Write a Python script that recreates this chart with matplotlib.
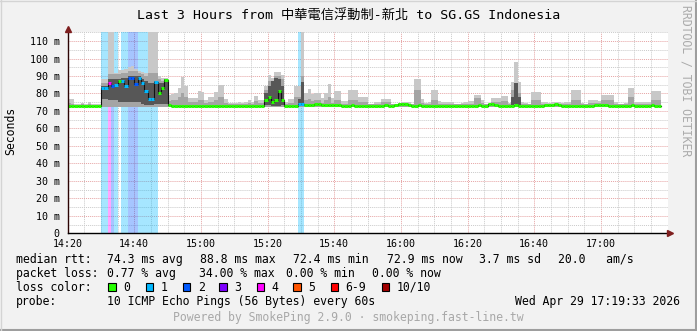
import numpy as np
import matplotlib
matplotlib.use("Agg")
import matplotlib.pyplot as plt
from matplotlib.lines import Line2D
from matplotlib.patches import Rectangle

W, H = 697, 331

# one sample per minute, minute 0 = 14:20
median_ms = [
    73.0, 72.9, 72.9, 73.0, 73.0, 73.1, 73.0, 72.9, 72.9, 73.0,
    83.0, 83.0, 86.0, 84.5, 85.0, 87.0, 87.0, 84.0, 88.6, 88.6,
    85.5, 89.0, 86.0, 81.5, 77.0, 77.0, 86.5, 80.5, 83.0, 87.5,
    73.2, 73.1, 73.0, 73.0, 73.1, 73.0, 72.9, 72.9, 73.0, 73.0,
    73.1, 73.0, 73.0, 72.9, 72.9, 73.0, 73.0, 73.0, 73.1, 73.0,
    72.9, 72.9, 73.0, 73.0, 73.1, 73.0, 73.0, 72.9, 73.0, 76.0,
    77.7, 75.1, 76.4, 81.5, 76.4, 73.0, 73.0, 72.9, 73.0, 73.8,
    73.8, 73.2, 73.3, 73.5, 73.8, 73.9, 73.6, 73.4, 73.3, 73.2,
    73.6, 73.4, 73.1, 73.0, 73.0, 73.2, 73.0, 72.9, 73.0, 73.0,
    73.1, 73.0, 72.9, 73.0, 73.1, 73.2, 73.1, 73.0, 73.2, 73.8,
    74.1, 73.9, 73.4, 73.1, 73.0, 73.2, 73.1, 73.0, 72.9, 73.0,
    73.1, 73.0, 73.0, 72.9, 72.9, 73.0, 73.0, 73.1, 73.0, 72.9,
    73.0, 73.1, 73.0, 73.2, 73.1, 73.0, 73.7, 73.8, 73.4, 73.1,
    73.0, 73.0, 72.9, 73.1, 73.2, 73.0, 72.9, 73.0, 73.0, 73.1,
    73.0, 73.0, 73.1, 73.2, 73.4, 73.6, 73.7, 73.3, 73.1, 73.0,
    73.0, 73.1, 73.0, 72.9, 73.0, 73.0, 73.1, 73.0, 73.2, 73.4,
    73.3, 73.2, 73.1, 73.0, 73.0, 72.9, 73.0, 73.0, 73.1, 73.2,
    73.0, 73.0, 72.9, 73.0, 73.1, 73.2, 73.1, 72.9,
]

loss_count = [
    0, 0, 0, 0, 0, 0, 0, 0, 0, 0,
    1, 1, 4, 2, 1, 0, 1, 1, 2, 2,
    2, 1, 1, 1, 1, 1, 1, 0, 0, 0,
    0, 0, 0, 0, 0, 0, 0, 0, 0, 0,
    0, 0, 0, 0, 0, 0, 0, 0, 0, 0,
    0, 0, 0, 0, 0, 0, 0, 0, 0, 0,
    0, 0, 0, 0, 0, 0, 0, 0, 0, 1,
    1, 0, 0, 0, 0, 0, 0, 0, 0, 0,
    0, 0, 0, 0, 0, 0, 0, 0, 0, 0,
    0, 0, 0, 0, 0, 0, 0, 0, 0, 0,
    0, 0, 0, 0, 0, 0, 0, 0, 0, 0,
    0, 0, 0, 0, 0, 0, 0, 0, 0, 0,
    0, 0, 0, 0, 0, 0, 0, 0, 0, 0,
    0, 0, 0, 0, 0, 0, 0, 0, 0, 0,
    0, 0, 0, 0, 0, 0, 0, 0, 0, 0,
    0, 0, 0, 0, 0, 0, 0, 0, 0, 0,
    0, 0, 0, 0, 0, 0, 0, 0, 0, 0,
    0, 0, 0, 0, 0, 0, 0, 0,
]

# top of the smoke (slowest ping), 120 = off the chart
ping_max = [
    77.0, 77.0, 74.0, 74.0, 74.5, 74.0, 75.0, 74.0, 74.0, 74.0,
    88.0, 88.0, 120, 120, 92.0, 93.5, 93.5, 94.0, 95.0, 95.5,
    94.0, 93.0, 92.5, 92.0, 120, 120, 120, 90.0, 89.0, 89.0,
    79.0, 79.5, 80.0, 83.4, 89.6, 84.0, 77.4, 77.4, 77.4, 81.3,
    81.0, 76.5, 78.0, 78.0, 81.0, 85.0, 85.0, 77.0, 74.5, 74.5,
    74.5, 75.0, 74.5, 75.4, 76.4, 75.4, 78.3, 76.4, 76.4, 84.0,
    90.6, 88.7, 92.5, 92.5, 90.6, 75.0, 77.0, 77.0, 84.0, 84.0,
    120, 80.2, 82.7, 79.5, 80.2, 80.2, 77.5, 80.5, 85.5, 77.5,
    81.5, 81.5, 75.5, 75.5, 82.0, 82.0, 82.0, 77.7, 77.7, 77.7,
    74.0, 74.0, 75.0, 75.0, 77.0, 77.0, 77.0, 74.0, 74.0, 74.5,
    75.0, 75.0, 75.0, 74.0, 88.3, 88.3, 77.0, 74.5, 75.0, 82.0,
    82.0, 75.5, 75.0, 75.0, 75.0, 75.0, 74.0, 74.0, 74.5, 75.0,
    75.5, 75.5, 79.2, 79.2, 76.0, 74.0, 74.5, 77.3, 77.3, 77.3,
    78.3, 78.3, 74.5, 86.8, 98.1, 86.8, 75.0, 74.5, 74.0, 80.8,
    80.8, 80.8, 75.0, 75.0, 74.5, 75.0, 75.0, 75.0, 74.5, 75.0,
    75.0, 82.0, 82.0, 82.0, 74.5, 74.0, 76.0, 76.0, 76.0, 75.5,
    79.2, 79.2, 79.2, 79.2, 75.0, 74.0, 74.0, 74.5, 83.3, 83.3,
    75.0, 75.0, 75.0, 75.0, 75.0, 81.3, 81.3, 81.3,
]

# top of the medium grey smoke band
ping_mid = [
    74.5, 74.0, 73.6, 73.6, 73.8, 73.6, 74.2, 73.6, 73.6, 73.6,
    86.0, 86.0, 91.0, 91.0, 91.0, 91.0, 92.0, 92.0, 93.0, 93.0,
    93.0, 92.0, 91.0, 90.0, 92.0, 92.0, 92.0, 88.0, 87.0, 87.0,
    75.5, 76.0, 76.5, 78.0, 80.0, 78.0, 75.0, 75.0, 75.0, 76.5,
    76.5, 74.5, 75.0, 75.0, 76.5, 78.0, 78.0, 74.5, 73.8, 73.8,
    73.8, 74.0, 73.8, 74.2, 74.5, 74.2, 75.5, 74.5, 74.5, 82.0,
    87.0, 87.0, 90.0, 90.0, 88.0, 73.8, 74.5, 74.5, 78.0, 78.0,
    90.0, 76.0, 77.0, 75.5, 76.0, 76.0, 74.5, 76.0, 78.0, 74.5,
    76.5, 76.5, 74.0, 74.0, 76.5, 76.5, 76.5, 75.0, 75.0, 75.0,
    73.8, 73.8, 74.0, 74.0, 75.0, 75.0, 75.0, 73.8, 73.8, 74.5,
    74.8, 74.5, 74.2, 73.8, 82.0, 82.0, 74.5, 73.8, 74.0, 76.5,
    76.5, 74.0, 74.0, 74.0, 74.0, 74.0, 73.8, 73.8, 73.8, 74.0,
    74.2, 74.2, 77.5, 77.5, 74.5, 73.8, 74.2, 75.0, 75.0, 75.0,
    75.5, 75.5, 73.8, 82.0, 86.0, 80.0, 74.0, 73.8, 73.8, 76.0,
    76.0, 76.0, 74.0, 74.0, 74.0, 74.2, 74.2, 74.0, 73.8, 74.0,
    74.0, 76.5, 76.5, 76.5, 73.8, 73.8, 74.5, 74.5, 74.5, 74.5,
    76.5, 76.5, 76.5, 76.5, 74.0, 73.8, 73.8, 73.8, 78.0, 78.0,
    74.0, 74.0, 74.0, 74.0, 74.0, 76.0, 76.0, 76.0,
]
ping_floor = 72.4

# dark smoke core in the busy stretches
dark1_start = 10
dark1_hi = [84, 84, 88, 88, 88, 88, 89, 89, 90, 90, 90, 90, 88, 87, 86, 86, 87, 86, 86, 88]
dark1_lo = [77, 77, 76, 76, 76, 75, 75, 75, 75, 75, 75, 75, 74, 73.5, 73.5, 73.5, 74, 74, 74, 74]
dark2_start = 59
dark2_hi = [80, 84, 87, 89, 88, 84]
dark2_lo = [73.5, 73.5, 73.0, 73.0, 73.0, 73.5]
dark3_start = 69
dark3_hi = [77, 86.8]
dark3_lo = [73.2, 73.6]
dark4_start = 133
dark4_hi = [78, 85.8, 78]
dark4_lo = [73.5, 74, 73.5]

y_ticks = [0, 10, 20, 30, 40, 50, 60, 70, 80, 90, 100, 110]
x_ticks = [0, 20, 40, 60, 80, 100, 120, 140, 160]
x_labels = ["14:20", "14:40", "15:00", "15:20", "15:40", "16:00", "16:20", "16:40", "17:00"]

loss_keys = ["0", "1", "2", "3", "4", "5", "6-9", "10/10"]
loss_cols = ["#26ff00", "#00b8ff", "#0059ff", "#7e00ff", "#ff00ff", "#ff5500", "#ff0000", "#a10000"]


def loss_color(n):
    if n <= 5:
        return loss_cols[n]
    if n < 10:
        return loss_cols[6]
    return loss_cols[7]


plt.rcParams["font.family"] = ["DejaVu Sans Mono", "Noto Sans CJK TC"]

fig = plt.figure(figsize=(W / 100, H / 100), dpi=100)
fig.patch.set_facecolor("#f2f2f2")


def fx(x):
    return x / W


def fy(y):
    return 1 - y / H


ax = fig.add_axes([fx(67.5), fy(233.3), 600 / W, 201 / H])
ax.set_facecolor("white")
ax.set_xlim(0, 180)
ax.set_ylim(0, 113.8)
for s in ax.spines.values():
    s.set_visible(False)

n = len(median_ms)
mins = np.arange(n)
edges = np.arange(n + 1)


def ext(a):
    a = np.asarray(a, dtype=float)
    return np.append(a, a[-1])


# grid
ax.set_xticks(x_ticks)
ax.set_xticklabels(x_labels)
ax.set_xticks([m for m in range(5, 180, 5) if m % 20], minor=True)
ax.set_yticks(y_ticks)
ax.set_yticklabels(["0"] + ["%d m" % v for v in y_ticks[1:]])
ax.set_yticks([v + 5 for v in y_ticks], minor=True)
ax.grid(which="minor", color="#cacaca", lw=0.7, ls=(0, (1, 1)))
ax.grid(which="major", color="#e6a4a4", lw=0.7, ls=(0, (1, 1)))
ax.set_axisbelow(True)
ax.tick_params(which="both", length=0)
ax.tick_params(axis="x", which="major", labelsize=7.2, pad=4)
ax.tick_params(axis="y", which="major", labelsize=7.2, pad=5.5)

# loss background
for k in range(n):
    if loss_count[k] > 0:
        ax.axvspan(k, k + 1, color=loss_color(loss_count[k]), alpha=0.35, lw=0, zorder=1)

# smoke
ax.fill_between(edges, ping_floor, ext(ping_max), step="post", color="#c8c8c8", lw=0, zorder=2)
ax.fill_between(edges, ping_floor, ext(ping_mid), step="post", color="#a4a4a4", lw=0, zorder=3)
for start, hi, lo in [(dark1_start, dark1_hi, dark1_lo), (dark2_start, dark2_hi, dark2_lo),
                      (dark3_start, dark3_hi, dark3_lo), (dark4_start, dark4_hi, dark4_lo)]:
    xs = np.arange(start, start + len(hi) + 1)
    ax.fill_between(xs, ext(lo), ext(hi), step="post", color="#575757", lw=0, zorder=4)

# median
ax.step(edges, ext(median_ms), where="post", color="#111111", lw=0.8, zorder=5)
ax.hlines(median_ms, mins, mins + 1, colors=[loss_color(v) for v in loss_count], lw=2.2, zorder=6)

# axis lines and arrows
fig.add_artist(Line2D([fx(67.5), fx(67.5)], [fy(233.3), fy(29)], color="#2c0404", lw=1))
fig.add_artist(Line2D([fx(67.5), fx(669)], [fy(233.3), fy(233.3)], color="#000000", lw=1))
fig.add_artist(Line2D([fx(67.5)], [fy(28.5)], marker="^", ms=5, color="#7f1f1f", lw=0))
fig.add_artist(Line2D([fx(670)], [fy(233.3)], marker=">", ms=5, color="#7f1f1f", lw=0))

# frame shading
fig.add_artist(Line2D([0, 1], [fy(330), fy(330)], color="#9e9e9e", lw=1.5))
fig.add_artist(Line2D([fx(696), fx(696)], [0, 1], color="#9e9e9e", lw=1.5))
fig.add_artist(Line2D([0, 1], [fy(0.5), fy(0.5)], color="#d4d4d4", lw=1))
fig.add_artist(Line2D([fx(0.5), fx(0.5)], [0, 1], color="#d4d4d4", lw=1))

fs = 8.3
fig.text(fx(348.5), fy(19.3), "Last 3 Hours from 中華電信浮動制-新北 to SG.GS Indonesia",
         ha="center", va="baseline", fontsize=9.5)
fig.text(fx(11), fy(130.5), "Seconds", rotation=90, ha="center", va="center", fontsize=fs)
fig.text(fx(686), fy(5), "RRDTOOL / TOBI OETIKER", rotation=270, ha="center", va="top",
         fontsize=fs, color="#ababab")

rows = [
    (263, [(16, "median rtt:"), (107.3, "74.3 ms avg"), (200, "88.8 ms max"), (293, "72.4 ms min"),
           (386.5, "72.9 ms now"), (479.3, "3.7 ms sd"), (558.3, "20.0   am/s")]),
    (277, [(16, "packet loss:"), (107.3, "0.77 % avg"), (199, "34.00 % max"), (286.5, "0.00 % min"),
           (371.7, "0.00 % now")]),
    (291, [(16, "loss color:")]),
    (305, [(16, "probe:"), (107.3, "10 ICMP Echo Pings (56 Bytes) every 60s")]),
]
for yb, items in rows:
    for x, s in items:
        fig.text(fx(x), fy(yb), s, ha="left", va="baseline", fontsize=fs)

box_x = [108.3, 145.7, 182.7, 219.3, 256.7, 293.3, 330.7, 381.7]
for bx, key, col in zip(box_x, loss_keys, loss_cols):
    fig.add_artist(Rectangle((fx(bx), fy(290.7)), 7.5 / W, 7.5 / H, facecolor=col,
                             edgecolor="black", lw=0.8))
    fig.text(fx(bx + 15), fy(291), key, ha="left", va="baseline", fontsize=fs)

fig.text(fx(680), fy(305), "Wed Apr 29 17:19:33 2026", ha="right", va="baseline", fontsize=fs)
fig.text(fx(348.5), fy(321), "Powered by SmokePing 2.9.0 · smokeping.fast-line.tw",
         ha="center", va="baseline", fontsize=fs, color="#a8a8a8")

fig.savefig("out.png", dpi=100, facecolor=fig.get_facecolor())
